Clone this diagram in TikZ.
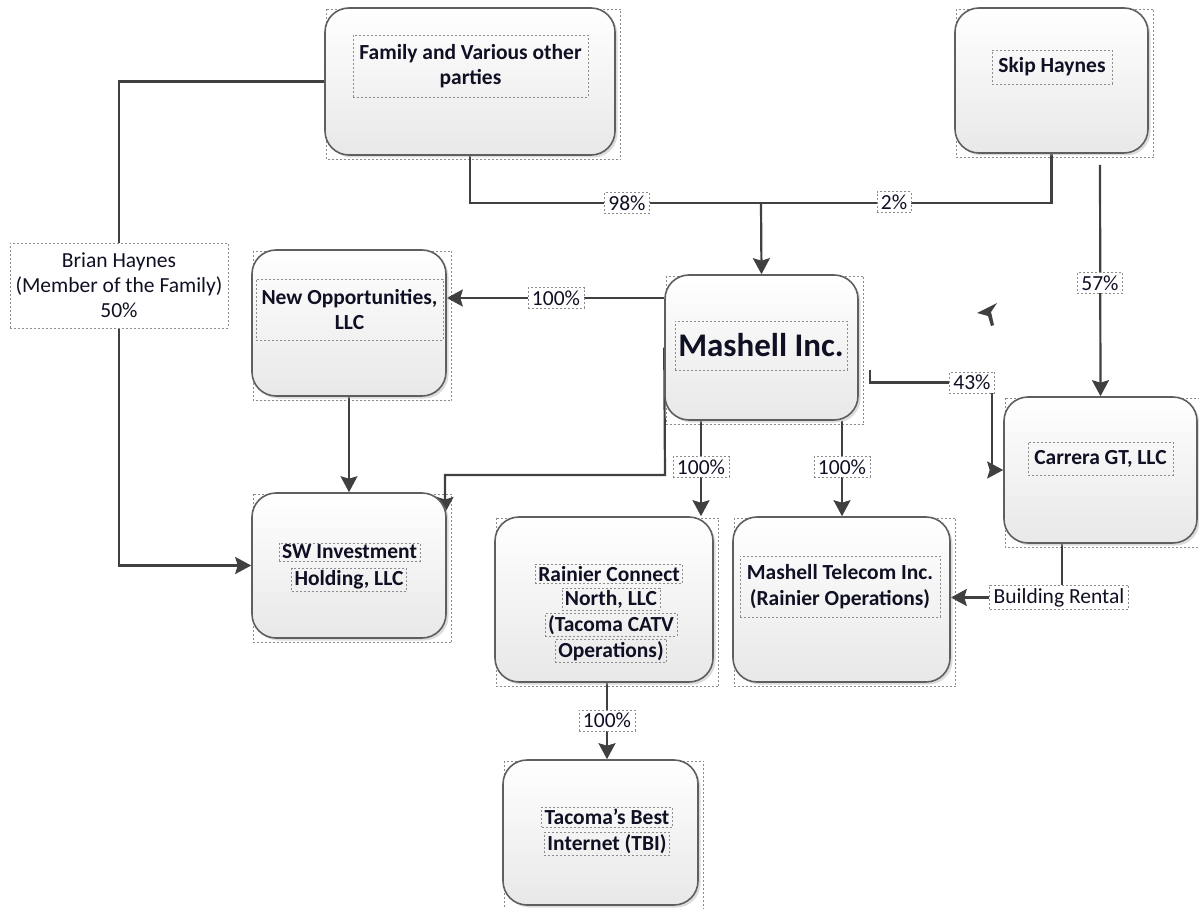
\documentclass[tikz,border=0pt]{standalone}
\usepackage{fontspec}
\setmainfont{Carlito}
\usetikzlibrary{arrows.meta,shadows,calc}
\pgfdeclarelayer{bg}
\pgfsetlayers{bg,main}
\definecolor{ln}{HTML}{404040}
\definecolor{bx}{HTML}{5F5F5F}
\definecolor{txt}{HTML}{101024}
\definecolor{fr}{HTML}{8C8C8C}
\begin{document}
\begin{tikzpicture}[x=1pt,y=-1pt,
  ent/.style={draw=bx, line width=1.6pt, rounded corners=24pt, top color=white, bottom color=black!9,
    drop shadow={shadow xshift=2.5pt, shadow yshift=-2.5pt, fill=black!30, opacity=0.45}},
  etxt/.style={font=\bfseries\fontsize{21.5}{25.5}\selectfont, text=txt, align=center,
    draw=fr, dash pattern=on 2pt off 2pt, line width=0.7pt, inner xsep=3pt, inner ysep=2pt},
  bigtxt/.style={etxt, font=\bfseries\fontsize{33}{38}\selectfont},
  lab/.style={font=\fontsize{21.5}{25}\selectfont, text=txt, align=center, fill=white,
    draw=fr, dash pattern=on 2pt off 2pt, line width=0.7pt, inner xsep=4pt, inner ysep=3pt},
  outfr/.style={draw=fr, dash pattern=on 2pt off 2pt, line width=0.7pt},
  conn/.style={draw=ln, line width=2.2pt},
  thin/.style={draw=ln, line width=1.4pt},
  arr/.style={-{Stealth[length=16pt,width=17pt,inset=2.5pt]}},
]
\useasboundingbox (0,0) rectangle (1199,909);

% entity boxes
\node[ent, minimum width=290pt, minimum height=147pt] (fam)  at (470,81.5) {};
\node[ent, minimum width=193pt, minimum height=145pt] (skip) at (1051.5,80.5) {};
\node[ent, minimum width=193pt, minimum height=145pt] (mash) at (761.5,347.5) {};
\node[ent, minimum width=194pt, minimum height=146pt] (newo) at (349,323) {};
\node[ent, minimum width=194pt, minimum height=145pt] (sw)   at (349,565.5) {};
\node[ent, minimum width=218pt, minimum height=165pt] (rain) at (604,599.5) {};
\node[ent, minimum width=217pt, minimum height=165pt] (tel)  at (841.5,599.5) {};
\node[ent, minimum width=193pt, minimum height=146pt] (carr) at (1100.5,470) {};
\node[ent, minimum width=195pt, minimum height=145pt] (tac)  at (600.5,832.5) {};

% entity texts
\node[etxt, minimum width=235pt, minimum height=62pt] (famt) at (470.5,66) {Family and Various other\\parties};
\node[etxt, minimum width=120pt, minimum height=34pt] (skipt) at (1052,67) {Skip Haynes};
\node[bigtxt, minimum width=172pt, minimum height=49pt] (masht) at (761,345.5) {Mashell Inc.};
\node[etxt, minimum width=187pt, minimum height=61pt] (newot) at (349.5,309.5) {New Opportunities,\\LLC};
\node[etxt] (swta) at (349.5,552) {SW Investment};
\node[etxt] (swtb) at (349,580) {Holding, LLC};
\node[etxt] (raina) at (609,574) {Rainier Connect};
\node[etxt] (rainb) at (611,599) {North, LLC};
\node[etxt] (rainc) at (611,625) {(Tacoma CATV};
\node[etxt] (raind) at (611,651) {Operations)};
\node[etxt, minimum width=200pt, minimum height=61pt] (telt) at (840,586.5) {Mashell Telecom Inc.\\(Rainier Operations)};
\node[etxt, minimum width=145pt, minimum height=33pt] (carrt) at (1100.5,458.5) {Carrera GT, LLC};
\node[etxt] (taca) at (607,817) {Tacoma’s Best};
\node[etxt] (tacb) at (607,844) {Internet (TBI)};

% labels
\node[lab, minimum width=218pt, minimum height=85pt] (brian) at (119,285.5) {Brian Haynes\\(Member of the Family)\\50\%};
\node[lab] (p98) at (627,203) {98\%};
\node[lab] (p2) at (894,202) {2\%};
\node[lab] (p57) at (1100,283) {57\%};
\node[lab] (p100a) at (556,298) {100\%};
\node[lab] (p43) at (972,382.5) {43\%};
\node[lab] (p100b) at (701,467) {100\%};
\node[lab] (p100c) at (842,467) {100\%};
\node[lab] (br) at (1059,597.5) {Building Rental};
\node[lab] (p100d) at (607,720.5) {100\%};

\coordinate (j1) at (761,203);
\coordinate (s57top) at (1100,165);
\coordinate (c1) at (665,475);
\coordinate (swin) at (445,513);
\coordinate (c2) at (870,370);
\coordinate (c3) at (992,470);
\coordinate (c4) at (1062,543);

\begin{pgfonlayer}{bg}
  % outer dashed frames
  \foreach \n in {fam,skip,mash,newo,sw,rain,tel,carr,tac}
    \draw[outfr] ([shift={(2,2)}]\n.north west) rectangle ([shift={(5,4)}]\n.south east);
  % connectors
  \draw[conn] (fam.west) -| (brian.north);
  \draw[conn,arr] (brian.south) |- (sw.west);
  \draw[conn] (fam.south) |- (j1);
  \draw[conn] (skip.south) |- (j1);
  \draw[conn,arr] (j1) -- (mash.north);
  \draw[conn,arr] (s57top) -- (carr.north);
  \draw[conn,arr] (mash.west |- p100a) -- (newo.east |- p100a);
  \draw[conn,arr] (mash.west) -- (c1) -| (swin);
  \draw[thin,arr] (newo.south) -- (sw.north);
  \draw[conn,arr] (mash.south -| p100b) -- (rain.north -| p100b);
  \draw[conn,arr] (mash.south -| p100c) -- (tel.north -| p100c);
  \draw[conn] (c2) |- (p43);
  \draw[conn,arr] (c3 |- p43.south) -- (c3) -- (carr.west);
  \draw[conn] (c4) -- (c4 |- br.north);
  \draw[conn,arr] (br.west) -- (tel.east |- br.west);
  \draw[conn,arr] (rain.south -| p100d) -- (tac.north -| p100d);
\end{pgfonlayer}

% stray arrowhead
\fill[ln] (977,313) -- (997,303) -- (991,312) -- (994,325) -- (991,326) -- (988,316) -- cycle;
\end{tikzpicture}
\end{document}
